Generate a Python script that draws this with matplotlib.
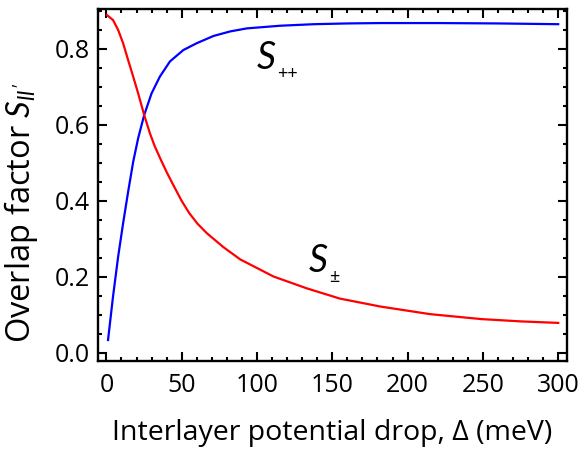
import matplotlib
matplotlib.use('Agg')
import matplotlib.pyplot as plt
from matplotlib.ticker import MultipleLocator, FormatStrFormatter

plt.rcParams['font.family'] = ['Open Sans', 'DejaVu Sans']
plt.rcParams['mathtext.fontset'] = 'custom'
plt.rcParams['mathtext.it'] = 'Lato:italic'
plt.rcParams['mathtext.rm'] = 'Lato'

# values
delta_pp = [1.1, 4.4, 7.8, 11.1, 14.4, 17.8, 21.1, 25.1, 30, 35.5, 42.2, 51.1, 60, 71.1, 82.2, 93.3,
            115.5, 137.8, 160, 182, 220, 260, 300]
s_pp = [0.034, 0.148, 0.253, 0.341, 0.423, 0.503, 0.565, 0.626, 0.683, 0.727, 0.767, 0.797, 0.815, 0.834,
        0.846, 0.854, 0.861, 0.865, 0.867, 0.868, 0.868, 0.867, 0.865]

delta_pm = [0.4, 4.4, 7.8, 11.1, 14.4, 17.8, 21.1, 25.1, 28.9, 32.2, 36.2, 40, 44.4, 50, 55, 60.5, 66.7, 77.8,
            88.9, 111, 133, 155, 182, 215, 249, 275, 300]
s_pm = [0.889, 0.876, 0.850, 0.815, 0.771, 0.727, 0.683, 0.626, 0.578, 0.543, 0.508, 0.476, 0.442, 0.400,
        0.368, 0.340, 0.315, 0.278, 0.246, 0.201, 0.170, 0.143, 0.122, 0.102, 0.089, 0.083, 0.079]

fig = plt.figure(figsize=(5.83, 4.5), dpi=100)
ax = fig.add_axes([0.168, 0.198, 0.805, 0.782])

ax.plot(delta_pp, s_pp, color='blue', lw=1.6)
ax.plot(delta_pm, s_pm, color='red', lw=1.6)

ax.set_xlim(-5.6, 306)
ax.set_ylim(-0.021, 0.905)
ax.xaxis.set_major_locator(MultipleLocator(50))
ax.xaxis.set_minor_locator(MultipleLocator(10))
ax.yaxis.set_major_locator(MultipleLocator(0.2))
ax.yaxis.set_minor_locator(MultipleLocator(0.05))
ax.yaxis.set_major_formatter(FormatStrFormatter('%.1f'))

ax.tick_params(which='both', direction='in', top=True, right=True, width=1.5, labelsize=18)
ax.tick_params(which='major', length=6.5)
ax.tick_params(which='minor', length=3.2)
ax.tick_params(axis='x', pad=9)
ax.tick_params(axis='y', pad=6)
for sp in ax.spines.values():
    sp.set_linewidth(1.7)

ax.set_xlabel('Interlayer potential drop, \u0394 (meV)', fontsize=20.5, va='center')
ax.set_ylabel("Overlap factor $S_{ll'}$", fontsize=23.5, va='center')
ax.xaxis.set_label_coords(0.498, -0.205)
ax.yaxis.set_label_coords(-0.163, 0.42)

ax.text(106.3, 0.775, 'S', family='Lato', style='italic', fontsize=27, ha='center', va='center')
ax.text(120.5, 0.734, '++', fontsize=13, ha='center', va='center')
ax.text(140.5, 0.241, 'S', family='Lato', style='italic', fontsize=27, ha='center', va='center')
ax.text(151.2, 0.200, '\u00b1', fontsize=13, ha='center', va='center')

fig.savefig('out.png', dpi=100)
